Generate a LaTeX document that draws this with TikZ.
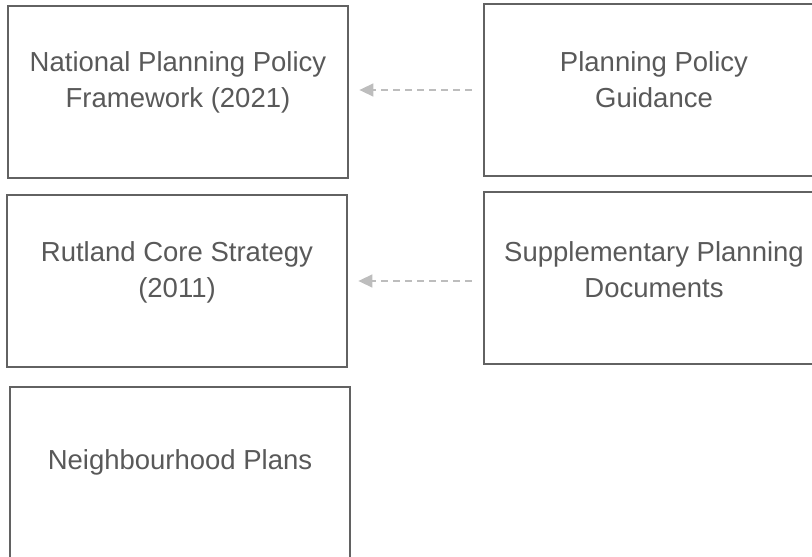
\documentclass[tikz,border=0pt]{standalone}
\usepackage{fontspec}
\setmainfont{Liberation Sans}
\usetikzlibrary{arrows.meta}
\definecolor{boxgray}{HTML}{626262}
\definecolor{textgray}{HTML}{595959}
\definecolor{arrowgray}{HTML}{BDBDBD}
\begin{document}
\begin{tikzpicture}[x=1pt, y=-1pt,
    docbox/.style={draw=boxgray, line width=2.8pt, minimum width=340pt, minimum height=172pt, inner sep=0pt},
    doctext/.style={text=textgray, align=center, font=\fontsize{27.5}{36}\selectfont},
    refers/.style={draw=arrowgray, line width=1.5pt, dash pattern=on 7pt off 5pt, -{Triangle[length=14pt,width=13pt]}, shorten <=11pt, shorten >=10pt}]
    \useasboundingbox (0,0) rectangle (812,557);
    % left column
    \node[docbox] (nppf) at (178,92) {};
    \node[docbox] (rcs) at (177,281) {};
    \node[docbox] (np) at (180,473) {};
    % right column
    \node[docbox] (ppg) at (654,90) {};
    \node[docbox] (spd) at (654,278) {};
    \node[doctext] (nppftext) at ([yshift=10pt]nppf.center) {National Planning Policy\\Framework (2021)};
    \node[doctext] (rcstext) at ([yshift=9pt]rcs.center) {Rutland Core Strategy\\(2011)};
    \node[doctext] (nptext) at ([yshift=11pt]np.center) {Neighbourhood Plans};
    \node[doctext] (ppgtext) at ([yshift=10pt]ppg.center) {Planning Policy\\Guidance};
    \node[doctext] (spdtext) at ([yshift=8pt]spd.center) {Supplementary Planning\\Documents};
    \draw[refers] (ppg.west) -- (ppg.west -| nppf.east);
    \draw[refers] ([yshift=-3pt]spd.west) -- ([yshift=-3pt]spd.west -| rcs.east);
\end{tikzpicture}
\end{document}
